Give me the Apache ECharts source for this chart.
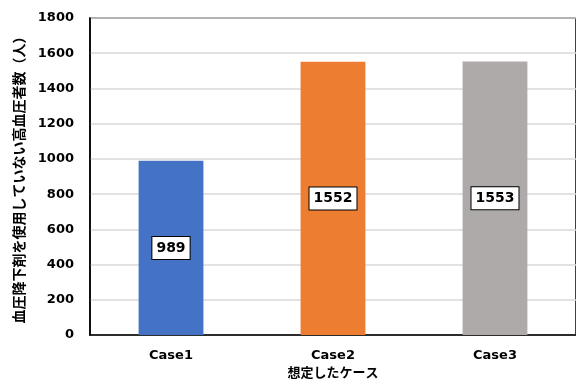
<!DOCTYPE html>
<html>
<head>
<meta charset="utf-8">
<script src="https://cdn.jsdelivr.net/npm/echarts@6/dist/echarts.min.js"></script>
<style>
html,body{margin:0;padding:0;background:#fff;}
#chart{width:576px;height:385px;}
</style>
</head>
<body>
<div id="chart"></div>
<script>
// データ
var cases = ['Case1', 'Case2', 'Case3'];
var counts = [989, 1552, 1553];
var barColors = ['#4472C4', '#ED7D31', '#AEAAAA'];
var yTicks = [0, 200, 400, 600, 800, 1000, 1200, 1400, 1600, 1800];

var fontFamily = 'Verdana, "DejaVu Sans", "Noto Sans CJK JP", sans-serif';

var chart = echarts.init(document.getElementById('chart'));
var barData = [];
for (var i = 0; i < counts.length; i++) {
	barData.push({ value: counts[i], itemStyle: { color: barColors[i] } });
}
var option = {
	animation: false,
	textStyle: { fontFamily: fontFamily },
	grid: {
		left: 90, right: 0, top: 18, bottom: 46,
		show: true, borderColor: '#000', borderWidth: 1.5
	},
	xAxis: {
		type: 'category',
		data: cases,
		name: '想定したケース',
		nameLocation: 'middle',
		nameGap: 31,
		nameTextStyle: { fontSize: 13, fontWeight: 'bold', color: '#000', fontFamily: fontFamily },
		axisLine: { lineStyle: { color: '#000', width: 1.5 } },
		axisTick: { show: false },
		axisLabel: { fontSize: 13, fontWeight: 'bold', color: '#000', margin: 14 }
	},
	yAxis: {
		type: 'value',
		min: yTicks[0],
		max: yTicks[yTicks.length - 1],
		interval: 200,
		name: '血圧降下剤を使用していない高血圧者数（人）',
		nameLocation: 'middle',
		nameGap: 58,
		nameTextStyle: { fontSize: 14, fontWeight: 'bold', color: '#000', fontFamily: fontFamily },
		axisLine: { show: true, lineStyle: { color: '#000', width: 1.5 } },
		axisTick: { show: false },
		axisLabel: {
			fontSize: 13, fontWeight: 'bold', color: '#000', margin: 16,
			formatter: function (v) { return String(v); }
		},
		splitLine: { lineStyle: { color: '#d9d9d9', width: 1.5 } }
	},
	series: [{
		type: 'bar',
		data: barData,
		barWidth: '40%',
		label: {
			show: true,
			position: 'inside',
			fontSize: 14,
			fontWeight: 'bold',
			color: '#000',
			backgroundColor: '#fff',
			borderColor: '#000',
			borderWidth: 1,
			padding: [5, 4, 3, 4]
		}
	}]
};
chart.setOption(option);
</script>
</body>
</html>
